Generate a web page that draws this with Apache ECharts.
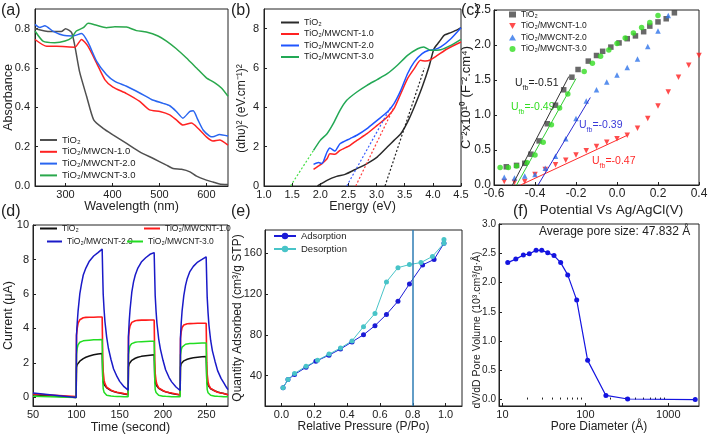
<!DOCTYPE html>
<html><head><meta charset="utf-8">
<script src="https://cdn.jsdelivr.net/npm/echarts@6/dist/echarts.min.js"></script>
<style>html,body{margin:0;padding:0;background:#fff}#c{width:708px;height:437px}</style>
</head><body><div id="c"></div>
<script>
// ---------- (a) UV-vis absorbance ----------
const aTiO2Wl = [235,267,291,300,313,320,330,345,360,380,401,430,458,487,515,529,547,565,579,600,614,628,646];
const aTiO2Abs = [0.80,0.785,0.785,0.80,0.78,0.71,0.58,0.455,0.336,0.293,0.26,0.217,0.174,0.14,0.106,0.089,0.085,0.072,0.05,0.03,0.02,0.01,0.007];
const aM1Wl = [235,260,281,320,334,348,366,384,401,430,458,479,501,522,536,550,568,582,600,614,628,646];
const aM1Abs = [0.745,0.71,0.71,0.706,0.745,0.71,0.626,0.54,0.503,0.47,0.43,0.387,0.379,0.362,0.336,0.31,0.32,0.294,0.25,0.229,0.234,0.208];
const aM2Wl = [235,245,256,274,295,316,334,348,366,387,405,430,458,483,508,522,536,550,565,572,582,593,607,614,628,646];
const aM2Abs = [0.822,0.806,0.815,0.786,0.766,0.763,0.775,0.73,0.635,0.567,0.532,0.507,0.473,0.44,0.42,0.408,0.379,0.345,0.38,0.382,0.336,0.285,0.254,0.25,0.262,0.254];
const aM3Wl = [235,252,277,299,313,323,338,348,366,387,405,430,451,472,497,515,536,557,579,600,618,632,646];
const aM3Abs = [0.788,0.737,0.729,0.737,0.754,0.788,0.805,0.827,0.817,0.805,0.81,0.808,0.79,0.783,0.763,0.737,0.698,0.652,0.6,0.55,0.524,0.498,0.456];
const aXTicks = [300,400,500,600];
const aYTicks = [0,0.2,0.4,0.6,0.8];

// ---------- (b) Tauc plot ----------
const bTiO2E = [1.95,2.12,2.29,2.44,2.65,2.83,3.01,3.19,3.31,3.43,3.55,3.67,3.81,3.93,4.02,4.11,4.20,4.32,4.44,4.5];
const bTiO2V = [0,0.29,0.49,0.59,0.88,1.14,1.47,1.98,2.32,2.66,3.25,4.02,5.03,6.05,6.98,7.32,7.66,7.8,7.95,8.05];
const bM1E = [1.88,1.97,2.03,2.12,2.17,2.26,2.35,2.53,2.65,2.83,3.01,3.19,3.31,3.43,3.55,3.67,3.78,3.87,3.96,4.08,4.26,4.5];
const bM1V = [0.85,1.02,1.14,1.39,1.64,1.61,1.81,2.07,2.32,2.66,3.08,3.51,3.93,4.69,5.46,5.97,6.39,6.35,6.42,6.64,6.98,7.32];
const bM2E = [1.88,1.97,2.03,2.12,2.17,2.26,2.35,2.53,2.65,2.83,3.01,3.19,3.31,3.43,3.55,3.67,3.81,3.93,4.02,4.14,4.32,4.5];
const bM2V = [1.1,1.19,1.14,1.73,1.93,1.78,2.15,2.41,2.58,2.92,3.34,3.76,4.19,4.86,5.71,6.31,6.73,6.9,6.93,7.07,7.49,8.05];
const bM3E = [1.88,2.0,2.12,2.23,2.35,2.47,2.65,2.83,3.01,3.19,3.37,3.55,3.73,3.84,3.96,4.14,4.32,4.5];
const bM3V = [1.81,2.32,2.66,3.17,3.85,4.36,4.78,5.12,5.41,5.71,6.14,6.64,6.98,7.07,6.9,6.93,7.15,7.46];
const bFit0E = [3.15,3.85], bFit0V = [0,6.0];
const bFit1E = [2.63,3.3],  bFit1V = [0,3.95];
const bFit2E = [2.47,3.25], bFit2V = [0,4.0];
const bFit3E = [1.47,1.88], bFit3V = [0,1.81];
const bXTicks = [1.0,1.5,2.0,2.5,3.0,3.5,4.0,4.5];
const bYTicks = [0,2,4,6,8];

// ---------- (c) Mott-Schottky ----------
const cTiO2U = [-0.54,-0.49,-0.45,-0.42,-0.38,-0.34,-0.30,-0.26,-0.22,-0.19,-0.14,-0.10,-0.07,-0.03,0.01,0.05,0.09,0.13,0.16,0.20,0.24,0.28];
const cTiO2C = [0.26,0.28,0.31,0.44,0.63,0.875,1.14,1.36,1.54,1.65,1.77,1.85,1.91,1.97,2.03,2.09,2.13,2.19,2.27,2.33,2.375,2.46];
const cM1U = [-0.55,-0.50,-0.45,-0.40,-0.35,-0.30,-0.25,-0.20,-0.15,-0.10,-0.05,0.00,0.05,0.10,0.15,0.20,0.25,0.30,0.35,0.40];
const cM1C = [0.05,0.04,0.05,0.15,0.22,0.29,0.355,0.43,0.49,0.55,0.61,0.66,0.71,0.81,0.95,1.13,1.33,1.54,1.71,1.85];
const cM2U = [-0.55,-0.50,-0.45,-0.40,-0.35,-0.30,-0.25,-0.20,-0.15,-0.10,-0.05,0.00,0.05,0.10,0.15,0.20,0.25];
const cM2C = [0.11,0.10,0.13,0.15,0.24,0.41,0.66,0.95,1.2,1.36,1.47,1.57,1.68,1.8,1.98,2.2,2.42];
const cM3U = [-0.57,-0.53,-0.49,-0.44,-0.40,-0.36,-0.32,-0.28,-0.24,-0.16,-0.12,-0.08,-0.04,0.00,0.04,0.08,0.12,0.16,0.20];
const cM3C = [0.25,0.25,0.27,0.32,0.43,0.61,0.86,1.1,1.3,1.62,1.74,1.84,1.93,2.02,2.1,2.17,2.25,2.32,2.42];
const cFit0U = [-0.51,-0.235], cFit0C = [0,1.55];
const cFit1U = [-0.47,0.05],   cFit1C = [0,0.71];
const cFit2U = [-0.385,-0.13], cFit2C = [0,1.25];
const cFit3U = [-0.49,-0.2],   cFit3C = [0,1.52];
const cXTicks = [-0.6,-0.4,-0.2,0.0,0.2,0.4];
const cYTicks = [0,0.5,1.0,1.5,2.0,2.5];

// ---------- (d) photocurrent ----------
const dTime = [50,99.8,
 100.2,101,102,104,106,108,111,115,120,125,129.8,
 130.5,131,132,133,135,137,140,143,147,150,155,159.8,
 160.2,161,162,164,166,168,171,175,180,185,189.8,
 190.5,191,192,193,195,197,200,203,207,210,215,219.8,
 220.2,221,222,224,226,228,231,235,240,245,249.8,
 250.5,251,252,253,255,257,260,263,267,270,273,275];
const dM2 = [0.25,0.0,
 3.6,4.3,5.0,6.0,6.6,7.1,7.5,7.9,8.2,8.4,8.6,
 7.0,6.0,5.1,4.4,3.5,2.85,2.2,1.65,1.2,0.93,0.62,0.42,
 3.6,4.4,5.1,6.1,6.7,7.1,7.5,7.85,8.1,8.3,8.4,
 6.9,5.9,5.0,4.3,3.4,2.8,2.15,1.6,1.15,0.9,0.6,0.4,
 3.5,4.3,5.0,5.9,6.5,6.9,7.3,7.6,7.85,8.0,8.15,
 6.7,5.8,4.9,4.2,3.3,2.7,2.1,1.55,1.1,0.85,0.6,0.45];
const dM1 = [0.2,0.05,
 3.6,4.0,4.3,4.5,4.58,4.62,4.64,4.65,4.65,4.66,4.66,
 2.2,1.5,1.0,0.8,0.6,0.5,0.42,0.35,0.3,0.27,0.22,0.18,
 3.5,3.9,4.15,4.35,4.42,4.45,4.47,4.48,4.48,4.49,4.49,
 2.1,1.4,0.95,0.75,0.55,0.47,0.4,0.33,0.28,0.25,0.2,0.15,
 3.4,3.8,4.05,4.2,4.25,4.27,4.28,4.29,4.3,4.3,4.3,
 2.0,1.35,0.9,0.7,0.52,0.44,0.37,0.3,0.25,0.22,0.18,0.15];
const dM3 = [0.07,0.0,
 2.5,2.85,3.05,3.2,3.25,3.28,3.3,3.32,3.34,3.35,3.36,
 1.0,0.5,0.3,0.2,0.13,0.1,0.08,0.06,0.05,0.05,0.04,0.03,
 2.5,2.8,3.0,3.12,3.17,3.2,3.22,3.23,3.24,3.25,3.25,
 0.95,0.45,0.28,0.18,0.12,0.09,0.07,0.06,0.05,0.04,0.03,0.03,
 2.45,2.75,2.92,3.03,3.08,3.1,3.12,3.13,3.14,3.15,3.15,
 0.9,0.45,0.27,0.18,0.12,0.09,0.07,0.06,0.05,0.04,0.03,0.03];
const dTiO2 = [0.15,0.0,
 1.75,1.9,2.0,2.1,2.18,2.25,2.33,2.4,2.47,2.52,2.55,
 1.1,0.9,0.75,0.65,0.55,0.47,0.4,0.34,0.28,0.25,0.2,0.15,
 1.75,1.95,2.05,2.15,2.22,2.27,2.33,2.38,2.42,2.45,2.47,
 1.05,0.85,0.72,0.62,0.52,0.45,0.38,0.32,0.27,0.23,0.18,0.14,
 1.75,1.95,2.05,2.12,2.17,2.21,2.26,2.3,2.33,2.35,2.37,
 1.0,0.82,0.7,0.6,0.5,0.43,0.37,0.31,0.26,0.22,0.18,0.15];
const dXTicks = [50,100,150,200,250];
const dYTicks = [0,2,4,6,8,10];

// ---------- (e) N2 isotherm ----------
const eAdsP = [0.01,0.04,0.08,0.15,0.21,0.29,0.36,0.43,0.5,0.57,0.64,0.71,0.78,0.86,0.93,0.99];
const eAdsQ = [28,36,41,48,54,60,66,73,80,89,100,113,130,148.7,154,170];
const eDesP = [0.99,0.99,0.92,0.85,0.78,0.71,0.64,0.57,0.5,0.43,0.36,0.29,0.22,0.15,0.08,0.04,0.01];
const eDesQ = [173.7,170,157,151,149,146,132,101,88,74,67,61,55,49,42,36,28];
const eMarkP = 0.8;
const eXTicks = [0.0,0.2,0.4,0.6,0.8,1.0];
const eYTicks = [40,80,120,160];

// ---------- (f) pore size distribution ----------
const fD = [11.6,14.5,17.9,21.1,25.5,29.8,35.2,41.9,50.4,61.3,78.7,106.6,177,324,2113];
const fV = [2.34,2.40,2.47,2.49,2.55,2.55,2.51,2.46,2.34,2.13,1.70,0.67,0.07,0.01,0.0];
const fXTicks = [10,100,1000];
const fXMinor = [20,30,40,50,60,70,80,90,200,300,400,500,600,700,800,900];
const fYTicks = [0,0.5,1.0,1.5,2.0,2.5,3.0];

// ================= chart =================
const FF = '"Liberation Sans", Arial, sans-serif';
const INK = '#222';
const zip = (xs, ys) => xs.map((x, i) => [x, ys[i]]);

function axis(gi, type, min, max, ticks, dec, name, nameGap, nameSize, labelSize, labelMargin, namePad) {
  return {
    gridIndex: gi, type, min, max,
    axisLine: {show: true, onZero: false, lineStyle: {color: INK, width: 1}},
    axisTick: {show: true, inside: true, length: 3, customValues: ticks, lineStyle: {color: INK}},
    axisLabel: {customValues: ticks, margin: labelMargin, fontFamily: FF, fontSize: labelSize, color: INK,
      formatter: v => dec == null ? String(v) : Number(v).toFixed(dec), hideOverlap: false},
    splitLine: {show: false}, minorTick: {show: false},
    name, nameLocation: 'middle', nameGap, nameMoveOverlap: false,
    nameTextStyle: {fontFamily: FF, fontSize: nameSize, color: INK, padding: namePad || 0}
  };
}
const grid = (left, top, width, height) => ({left, top, width, height, show: true,
  borderColor: INK, borderWidth: 1, backgroundColor: 'rgba(0,0,0,0)', outerBoundsMode: 'none', containLabel: false});

const grids = [
  grid(35, 9, 193, 177),
  grid(264, 9, 197, 177),
  grid(494, 10, 205, 175),
  grid(33, 225, 195, 181),
  grid(265, 230, 197, 176),
  grid(499, 224, 200, 182)
];

const xAxes = [
  axis(0, 'value', 235, 646, aXTicks, null, 'Wavelength (nm)', 14, 12.5, 11, 3),
  axis(1, 'value', 1.0, 4.5, bXTicks, 1, 'Energy (eV)', 14, 12.5, 11, 3),
  axis(2, 'value', -0.6, 0.4, cXTicks, 1, 'Potential Vs Ag/AgCl(V)', 18, 13.5, 12, 3, [0, 0, 0, 30]),
  axis(3, 'value', 50, 275, dXTicks, null, 'Time (second)', 15, 12.5, 11, 3),
  axis(4, 'value', -0.1, 1.1, eXTicks, 1, 'Relative Pressure (P/Po)', 15, 12, 11, 3),
  axis(5, 'log', 9.1, 2346, fXTicks, null, 'Pore Diameter (Å)', 15, 12, 11, 3),
  {gridIndex: 5, type: 'log', min: 9.1, max: 2346, position: 'bottom',
   axisLine: {show: false}, axisLabel: {show: false}, splitLine: {show: false},
   axisTick: {show: true, inside: true, length: 2, customValues: fXMinor, lineStyle: {color: INK}}}
];
const yAxes = [
  axis(0, 'value', 0, 0.9, aYTicks, 1, 'Absorbance', 20, 12.5, 11, 5),
  axis(1, 'value', 0, 9, bYTicks, null, '(αhυ)² (eV.cm⁻¹)²', 16, 12, 11, 5, [0, 22, 0, 0]),
  axis(2, 'value', 0, 2.5, cYTicks, 1, 'C⁻²x10¹⁰ (F⁻².cm⁴)', 21, 13, 12, 3),
  axis(3, 'value', -0.5, 10, dYTicks, null, 'Current (μA)', 18, 12.5, 11, 4),
  axis(4, 'value', 10, 183, eYTicks, null, 'Quantity Adsorbed (cm³/g STP)', 21, 12, 11, 3),
  axis(5, 'value', -0.11, 3.0, fYTicks, 1, 'dV/dD Pore Volume (10³.cm³/g·Å)', 16, 10.5, 10, 3, [0, 30, 0, 0])
];

function line(name, gi, data, color, width, extra) {
  return Object.assign({type: 'line', name, xAxisIndex: gi, yAxisIndex: gi, data, symbol: 'none',
    lineStyle: {color, width}, itemStyle: {color}, animation: false, clip: true}, extra || {});
}
function scat(name, data, color, symbol, rot) {
  return {type: 'scatter', name, xAxisIndex: 2, yAxisIndex: 2, data, symbol, symbolSize: 5.5,
    symbolRotate: rot || 0, itemStyle: {color}, animation: false};
}

const cRed = '#ff2222', cBlue = '#2a66f0', cGreen = '#2aa84c';
const series = [
  // (a)
  line('TiO₂', 0, zip(aTiO2Wl, aTiO2Abs), '#505050', 1.5, {smooth: 0.2}),
  line('TiO₂/MWCN-1.0', 0, zip(aM1Wl, aM1Abs), cRed, 1.5, {smooth: 0.2}),
  line('TiO₂/MWCNT-2.0', 0, zip(aM2Wl, aM2Abs), cBlue, 1.5, {smooth: 0.2}),
  line('TiO₂/MWCNT-3.0', 0, zip(aM3Wl, aM3Abs), cGreen, 1.5, {smooth: 0.2}),
  // (b)
  line('TiO₂ ', 1, zip(bTiO2E, bTiO2V), '#2a2a2a', 1.5, {smooth: 0.2}),
  line('TiO₂/MWCNT-1.0 ', 1, zip(bM1E, bM1V), cRed, 1.5, {smooth: 0.2}),
  line('TiO₂/MWCNT-2.0 ', 1, zip(bM2E, bM2V), '#1f55ff', 1.5, {smooth: 0.2}),
  line('TiO₂/MWCNT-3.0 ', 1, zip(bM3E, bM3V), '#22a855', 1.5, {smooth: 0.2}),
  line('fit-b0', 1, zip(bFit0E, bFit0V), '#222', 1.2, {lineStyle: {color: '#222', width: 1.2, type: [2, 2]}}),
  line('fit-b1', 1, zip(bFit1E, bFit1V), '#ff3b3b', 1.2, {lineStyle: {color: '#ff3b3b', width: 1.2, type: [2, 2]}}),
  line('fit-b2', 1, zip(bFit2E, bFit2V), '#3a5cff', 1.2, {lineStyle: {color: '#3a5cff', width: 1.2, type: [2, 2]}}),
  line('fit-b3', 1, zip(bFit3E, bFit3V), '#44dd44', 1.2, {lineStyle: {color: '#44dd44', width: 1.2, type: [2, 2]}}),
  // (c)
  line('fit-c0', 2, zip(cFit0U, cFit0C), '#333', 1),
  line('fit-c1', 2, zip(cFit1U, cFit1C), '#ff2a2a', 1),
  line('fit-c2', 2, zip(cFit2U, cFit2C), '#2b2bd0', 1),
  line('fit-c3', 2, zip(cFit3U, cFit3C), '#33cc33', 1),
  scat('TiO₂  ', zip(cTiO2U, cTiO2C), '#444444', 'rect'),
  scat('TiO₂/MWCNT-1.0  ', zip(cM1U, cM1C), '#ff1f1f', 'triangle', 180),
  scat('TiO₂/MWCNT-2.0  ', zip(cM2U, cM2C), '#2f74ea', 'triangle'),
  scat('TiO₂/MWCNT-3.0  ', zip(cM3U, cM3C), '#33dd22', 'circle'),
  // (d)
  line('TiO₂   ', 3, zip(dTime, dTiO2), '#111111', 1.5),
  line('TiO₂/MWCNT-1.0   ', 3, zip(dTime, dM1), '#ff1a1a', 1.6),
  line('TiO₂/MWCNT-3.0   ', 3, zip(dTime, dM3), '#22dd22', 1.5),
  line('TiO₂/MWCNT-2.0   ', 3, zip(dTime, dM2), '#1a1ac8', 1.5),
  // (e)
  line('Adsorption', 4, zip(eAdsP, eAdsQ), '#1b1bd6', 1, {symbol: 'circle', symbolSize: 5, showSymbol: true,
    markLine: {silent: true, symbol: ['none', 'none'], label: {show: false}, animation: false,
      lineStyle: {color: '#2e7db5', width: 1.5, type: 'solid'}, data: [{xAxis: eMarkP}]}}),
  line('Desorption', 4, zip(eDesP, eDesQ), '#48c4c8', 1, {symbol: 'circle', symbolSize: 5, showSymbol: true}),
  // (f)
  line('PSD', 5, zip(fD, fV), '#1414e0', 1.2, {symbol: 'circle', symbolSize: 5, showSymbol: true})
];

const legTxt = size => ({fontFamily: FF, fontSize: size, color: INK});
const legBase = {selectedMode: false, padding: 0, formatter: n => n.trim(), orient: 'vertical'};
const lineLeg = (extra) => Object.assign({}, legBase, {icon: 'rect', itemHeight: 2}, extra);
const legends = [
  lineLeg({left: 40, top: 135, itemWidth: 17, itemGap: 1.8, textStyle: legTxt(9.5),
    data: ['TiO₂', 'TiO₂/MWCN-1.0', 'TiO₂/MWCNT-2.0', 'TiO₂/MWCNT-3.0']}),
  lineLeg({left: 281, top: 18, itemWidth: 18, itemGap: 2.5, textStyle: legTxt(9),
    data: ['TiO₂ ', 'TiO₂/MWCNT-1.0 ', 'TiO₂/MWCNT-2.0 ', 'TiO₂/MWCNT-3.0 ']}),
  Object.assign({}, legBase, {left: 509, top: 10, itemWidth: 7, itemHeight: 6, itemGap: 2.5, textStyle: legTxt(8.5),
    data: [{name: 'TiO₂  ', icon: 'rect'}, {name: 'TiO₂/MWCNT-1.0  ', icon: 'path://M0,0L10,0L5,9Z'},
           {name: 'TiO₂/MWCNT-2.0  ', icon: 'triangle'}, {name: 'TiO₂/MWCNT-3.0  ', icon: 'circle'}]}),
  lineLeg({left: 40, top: 224, itemWidth: 17, textStyle: legTxt(8.5), data: ['TiO₂   ']}),
  lineLeg({left: 144, top: 224, itemWidth: 16, textStyle: legTxt(8.5), data: ['TiO₂/MWCNT-1.0   ']}),
  lineLeg({left: 47, top: 237, itemWidth: 15, textStyle: legTxt(8.5), data: ['TiO₂/MWCNT-2.0   ']}),
  lineLeg({left: 127, top: 237, itemWidth: 16, textStyle: legTxt(8.5), data: ['TiO₂/MWCNT-3.0   ']}),
  Object.assign({}, legBase, {left: 273, top: 231, itemWidth: 22, itemHeight: 8, itemGap: 3, textStyle: legTxt(9.5),
    data: ['Adsorption', 'Desorption']})
];

const letter = (t, x, y) => ({type: 'text', left: x, top: y, silent: true,
  style: {text: t, fontFamily: FF, fontSize: 16, fill: INK}});
const ufb = (val, x, y, color) => ({type: 'text', left: x, top: y, silent: true,
  style: {text: '{u|U}{s|fb}{u|=' + val + '}', fill: color, fontFamily: FF,
    rich: {u: {fontSize: 10.5, fontFamily: FF, fill: color, verticalAlign: 'top', lineHeight: 14},
           s: {fontSize: 7, fontFamily: FF, fill: color, verticalAlign: 'bottom', lineHeight: 14}}}});

const graphics = [
  letter('(a)', 1, 3), letter('(b)', 231, 3), letter('(c)', 461, 3),
  letter('(d)', 1, 204), letter('(e)', 231, 204), letter('(f)', 513, 204),
  ufb('-0.51', 515, 78, '#222'),
  ufb('-0.49', 511, 102, '#33dd22'),
  ufb('-0.39', 579, 120, '#3a3ad8'),
  ufb('-0.47', 592, 156, '#ff2a2a'),
  {type: 'text', left: 539, top: 226, silent: true,
   style: {text: 'Average pore size: 47.832 Å', fontFamily: FF, fontSize: 12, fill: INK}}
];

const chart = echarts.init(document.getElementById('c'), null, {renderer: 'canvas'});
chart.setOption({
  animation: false,
  backgroundColor: '#fff',
  grid: grids, xAxis: xAxes, yAxis: yAxes, series, legend: legends, graphic: graphics
});
</script></body></html>
